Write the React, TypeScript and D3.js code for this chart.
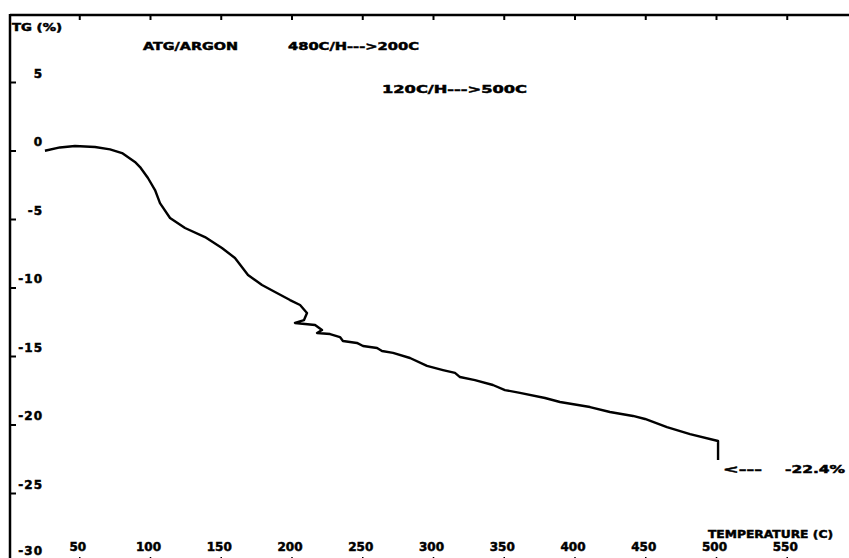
import React from 'react';
import * as d3 from 'd3';

// temperature (C)
const temperature = [
  25.4, 36.0, 46.6, 60.8, 71.4, 79.9, 89.0, 92.6, 98.2, 103.2, 106.7, 113.8,
  124.4, 138.5, 150.5, 159.7, 168.9, 178.8, 188.0, 198.6, 205.7, 210.6, 208.5,
  202.1, 209.2, 216.3, 221.2, 217.7, 226.9, 233.9, 236.0, 245.9, 250.2, 260.1,
  263.6, 271.4, 283.4, 295.4, 306.7, 315.2, 318.7, 329.3, 342.0, 350.5, 361.1,
  378.8, 389.4, 410.6, 424.7, 441.0, 449.5, 465.0, 481.3, 501.1, 501.1,
];
// mass change TG (%)
const tg = [
  0.02, 0.26, 0.36, 0.29, 0.12, -0.15, -0.8, -1.17, -1.97, -2.85, -3.8, -4.89,
  -5.62, -6.28, -7.08, -7.81, -9.05, -9.78, -10.29, -10.88, -11.24, -11.82,
  -12.34, -12.55, -12.63, -12.7, -13.07, -13.28, -13.36, -13.58, -13.87, -14.01,
  -14.23, -14.38, -14.6, -14.74, -15.11, -15.69, -15.99, -16.2, -16.5, -16.72,
  -17.08, -17.45, -17.66, -18.03, -18.32, -18.69, -19.05, -19.34, -19.56,
  -20.15, -20.66, -21.17, -22.55,
];

const xTicks = [50, 100, 150, 200, 250, 300, 350, 400, 450, 500, 550];
const yTicks = [5, 0, -5, -10, -15, -20, -25, -30];

const W = 849;
const H = 558;
const FONT = '"DejaVu Sans", sans-serif';

const App: React.FC = () => {
  const x = d3.scaleLinear().domain([0, 600]).range([9, 858]);
  const y = d3.scaleLinear().domain([-30, 10]).range([562, 14]);

  const pts = temperature.map((t, i) => [t, tg[i]] as [number, number]);
  const line = d3.line<[number, number]>()
    .x(d => x(d[0]))
    .y(d => y(d[1]))
    .curve(d3.curveLinear);

  const axisX = 10;
  const topY = 15;
  const bottomY = 562;

  return (
    <svg width={W} height={H} style={{ position: 'absolute', left: 0, top: 0, background: '#fff' }}
      fontFamily={FONT} fontWeight="bold" fill="#000" stroke="none">
      {/* frame */}
      <line x1={axisX} y1={topY} x2={W} y2={topY} stroke="#000" strokeWidth={2.5} />
      <line x1={axisX} y1={topY - 1} x2={axisX} y2={H} stroke="#000" strokeWidth={2.5} />
      <line x1={axisX} y1={bottomY} x2={W} y2={bottomY} stroke="#000" strokeWidth={2.5} />

      {/* top & bottom ticks */}
      {xTicks.map(t => (
        <g key={'xt' + t}>
          <line x1={x(t)} y1={topY} x2={x(t)} y2={topY + 5} stroke="#000" strokeWidth={2} />
          <line x1={x(t)} y1={bottomY} x2={x(t)} y2={bottomY - 5} stroke="#000" strokeWidth={1.5} />
          <text x={x(t) - 2} y={551} fontSize={12} textAnchor="middle"
            stroke="#000" strokeWidth={0.5}>{t}</text>
        </g>
      ))}

      {/* left ticks */}
      {yTicks.map(v => (
        <g key={'yt' + v}>
          <line x1={axisX} y1={y(v)} x2={axisX + 6} y2={y(v)} stroke="#000" strokeWidth={2} />
          <text x={43} y={Math.min(y(v) - 5, 555)} fontSize={12} textAnchor="end"
            letterSpacing={1} stroke="#000" strokeWidth={0.5}>{v}</text>
        </g>
      ))}

      {/* curve */}
      <path d={line(pts) || ''} fill="none" stroke="#000" strokeWidth={2.4} strokeLinejoin="round" />

      {/* annotations */}
      <g stroke="#000" strokeWidth={0.5}>
        <text x={12} y={31} fontSize={10} textLength={50} lengthAdjust="spacingAndGlyphs">TG  (%)</text>
        <text x={143} y={50} fontSize={11} textLength={95} lengthAdjust="spacingAndGlyphs">ATG/ARGON</text>
        <text x={288} y={50} fontSize={11} textLength={131} lengthAdjust="spacingAndGlyphs">480C/H---&gt;200C</text>
        <text x={382} y={93} fontSize={11} textLength={145} lengthAdjust="spacingAndGlyphs">120C/H---&gt;500C</text>
        <text x={708} y={538} fontSize={11} textLength={125} lengthAdjust="spacingAndGlyphs">TEMPERATURE  (C)</text>
        <text x={723} y={473} fontSize={11} textLength={39} lengthAdjust="spacingAndGlyphs">&lt;---</text>
        <text x={785} y={473} fontSize={11} textLength={60} lengthAdjust="spacingAndGlyphs">-22.4%</text>
      </g>
    </svg>
  );
};

export default App;
